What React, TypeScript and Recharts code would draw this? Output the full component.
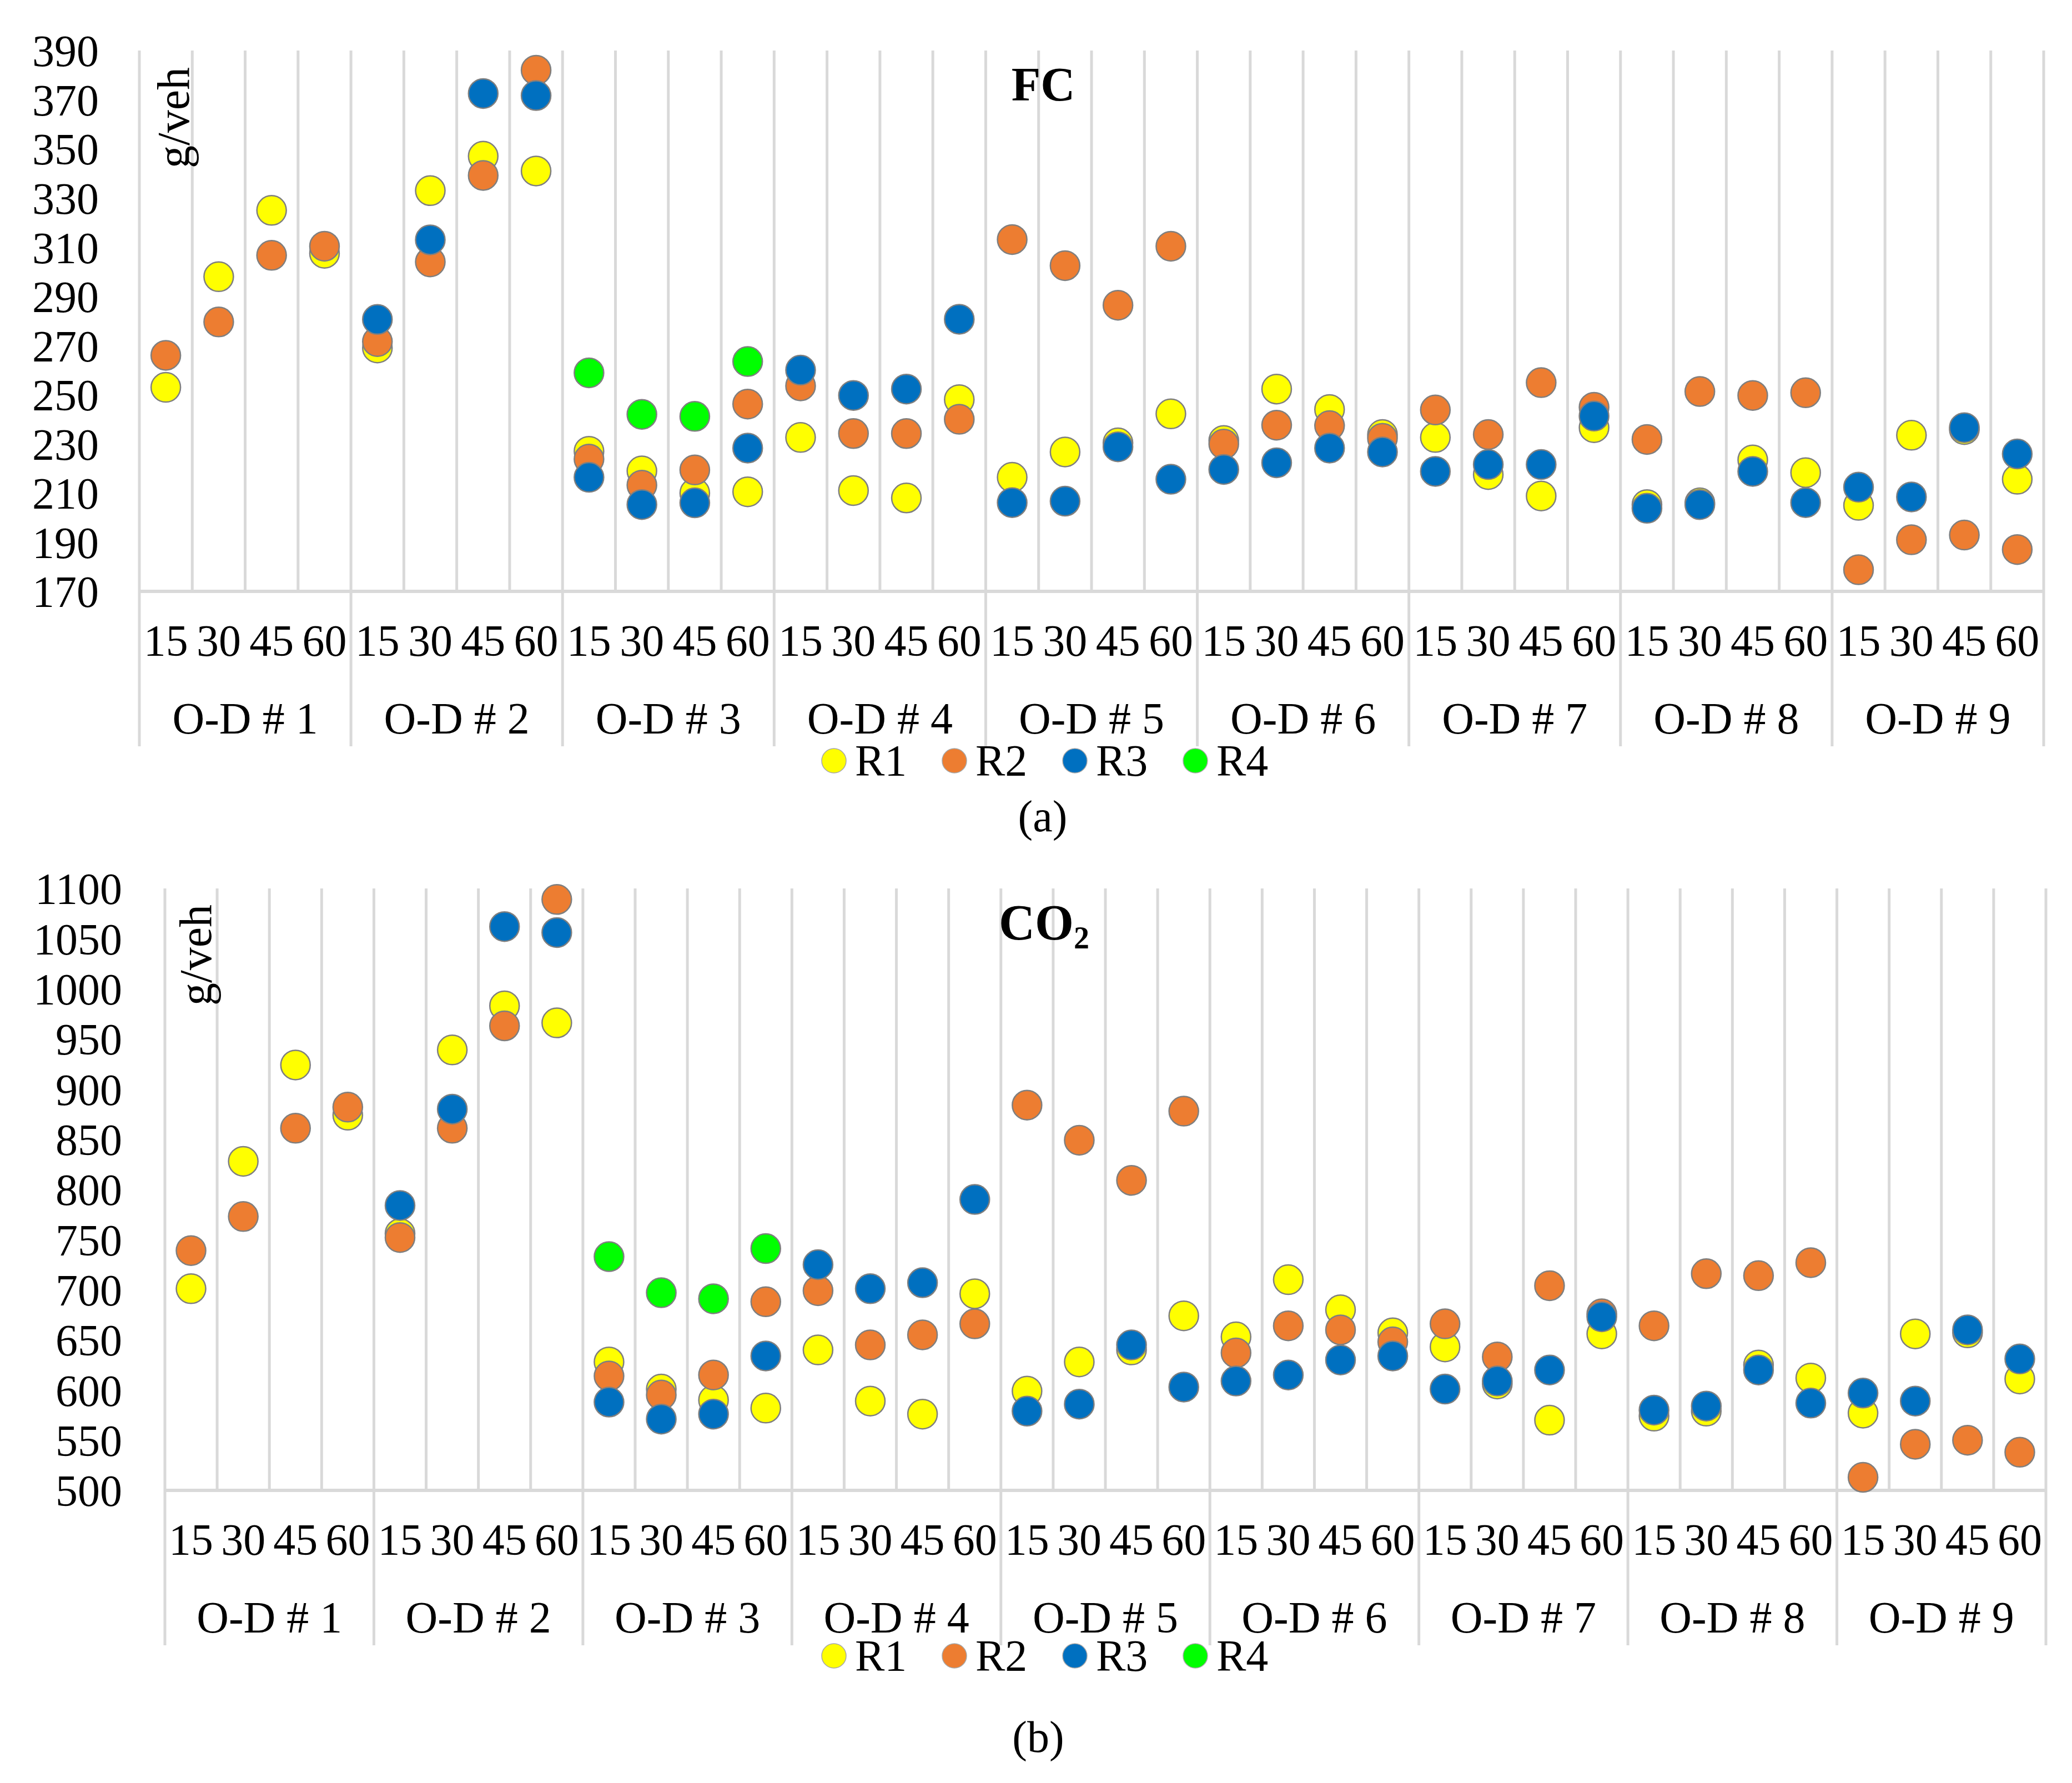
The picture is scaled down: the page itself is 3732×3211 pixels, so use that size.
import type { FC } from "react";
import {
	CartesianGrid,
	ComposedChart,
	Legend,
	Scatter,
	XAxis,
	YAxis,
} from "recharts";

const TIMES = ["15", "30", "45", "60"];
const OD_LABELS = [
	"O-D # 1",
	"O-D # 2",
	"O-D # 3",
	"O-D # 4",
	"O-D # 5",
	"O-D # 6",
	"O-D # 7",
	"O-D # 8",
	"O-D # 9",
];

const FC_TICKS = [170, 190, 210, 230, 250, 270, 290, 310, 330, 350, 370, 390];
const CO2_TICKS = [
	500, 550, 600, 650, 700, 750, 800, 850, 900, 950, 1000, 1050, 1100,
];

// FC (g/veh), 9 O-D pairs x 4 intervals
const FC_R1 = [
	253, 298, 325, 307.5, 269, 333, 347, 341, 227, 219, 210, 210.5, 232.6, 211,
	208, 248, 216.4, 226.7, 230.4, 242.2, 231.4, 252.3, 244, 233.8, 232.6, 217.5,
	208.8, 236.6, 205.3, 206, 223.5, 218.3, 205, 233.5, 235.8, 215.6,
];
const FC_R2 = [
	266, 279.6, 306.7, 310.4, 271.6, 304, 339.2, 382, 223.8, 213.2, 219.4, 246.2,
	253.6, 234.2, 234.2, 240, 313.1, 302.5, 286.4, 310.4, 229.9, 237.6, 237.4,
	232.3, 243.8, 233.8, 254.9, 244.9, 231.8, 251.3, 249.7, 250.8, 178.8, 191,
	192.9, 187,
];
const FC_R3 = [
	null, null, null, null, 280.6, 313, 372.5, 371.7, 216.4, 205.3, 206, 228.3,
	260, 249.7, 252.3, 280.7, 206.1, 206.7, 228.8, 215.6, 219.6, 222.3, 228.3,
	226.7, 218.8, 221.6, 221.6, 241.3, 203.8, 205.3, 218.8, 206.1, 212.4, 208.4,
	236.6, 225.9,
];
const FC_R4 = [
	null, null, null, null, null, null, null, null, 258.9, 242, 241.2, 263.5,
	null, null, null, null, null, null, null, null, null, null, null, null, null,
	null, null, null, null, null, null, null, null, null, null, null,
];

// CO2 (g/veh)
const CO2_R1 = [
	701, 828, 924, 874, 756, 939, 983, 966, 628, 601, 590, 582, 640, 589, 576,
	696, 599, 628, 640, 674, 653, 710, 680, 657, 643, 606, 570, 656, 574, 579,
	625, 612, 577, 656, 657, 611,
];
const CO2_R2 = [
	739, 773, 861, 882, 752, 861, 963, 1089, 614, 595, 615, 688, 699, 645, 655,
	666, 884, 849, 809, 878, 637, 664, 660, 648, 666, 633, 704, 676, 664, 716,
	714, 727, 513, 546, 550, 538,
];
const CO2_R3 = [
	null, null, null, null, 784, 880, 1062, 1056, 588, 571, 576, 634, 725, 701,
	707, 790, 579, 586, 645, 603, 609, 615, 630, 634, 601, 609, 620, 673, 580,
	584, 620, 587, 597, 589, 660, 631,
];
const CO2_R4 = [
	null, null, null, null, null, null, null, null, 733, 697, 691, 741, null,
	null, null, null, null, null, null, null, null, null, null, null, null, null,
	null, null, null, null, null, null, null, null, null, null,
];

const SERIES = [
	{ key: "R1", color: "#FFFF00" },
	{ key: "R2", color: "#ED7D31" },
	{ key: "R3", color: "#0070C0" },
	{ key: "R4", color: "#00FF00" },
];

const FONT = '"Liberation Serif", "Times New Roman", serif';
const GRID = "#d9d9d9";
const CATS = 36;
const FS = 80;

type Val = number | null;

const buildRows = (r1: Val[], r2: Val[], r3: Val[], r4: Val[]) =>
	r1.map((_, i) => ({ pos: i + 0.5, R1: r1[i], R2: r2[i], R3: r3[i], R4: r4[i] }));

const POS_TICKS = Array.from({ length: CATS }, (_, i) => i + 0.5);

const makeDot = (key: string, fill: string) => (p: any) => {
	if (p?.payload?.[key] == null || !Number.isFinite(p.cy)) return <g />;
	return (
		<circle
			cx={p.cx}
			cy={p.cy}
			r={26.5}
			fill={fill}
			stroke="#7f7f7f"
			strokeWidth={2.5}
		/>
	);
};

const makeTick = (band: number) => (props: any) => {
	const { x, y, payload } = props;
	const i = Math.floor(payload.value);
	const left = x - band / 2;
	const right = x + band / 2;
	return (
		<g>
			<text
				x={x}
				y={y + 116}
				textAnchor="middle"
				fontSize={FS}
				fontFamily={FONT}
				fill="#000"
			>
				{TIMES[i % 4]}
			</text>
			{i % 4 === 0 && (
				<line x1={left} x2={left} y1={y} y2={y + 279} stroke={GRID} strokeWidth={5} />
			)}
			{i === CATS - 1 && (
				<line x1={right} x2={right} y1={y} y2={y + 279} stroke={GRID} strokeWidth={5} />
			)}
			{i % 4 === 1 && (
				<text
					x={right}
					y={y + 256}
					textAnchor="middle"
					fontSize={FS}
					fontFamily={FONT}
					fill="#000"
				>
					{OD_LABELS[Math.floor(i / 4)]}
				</text>
			)}
		</g>
	);
};

const LegendContent = (props: any) => (
	<div style={{ display: "flex", alignItems: "center", height: 60 }}>
		{(props.payload ?? []).map((e: any) => (
			<div
				key={e.value}
				style={{ display: "flex", alignItems: "center", width: 217, height: 60 }}
			>
				<svg width={48} height={48}>
					<circle cx={24} cy={24} r={22} fill={e.color} stroke="#a6a6a6" strokeWidth={1.5} />
				</svg>
				<span
					style={{
						marginLeft: 14,
						fontFamily: FONT,
						fontSize: FS,
						lineHeight: "60px",
						color: "#000",
					}}
				>
					{e.value}
				</span>
			</div>
		))}
	</div>
);

type PanelProps = {
	rows: ReturnType<typeof buildRows>;
	domain: [number, number];
	ticks: number[];
	height: number;
	top: number;
	right: number;
	bottom: number;
	yWidth: number;
	tickGap: number;
	legendTop: number;
};

const W = 3732;

const Panel: FC<PanelProps> = ({
	rows,
	domain,
	ticks,
	height,
	top,
	right,
	bottom,
	yWidth,
	tickGap,
	legendTop,
}) => {
	const band = (W - yWidth - right) / CATS;
	return (
		<ComposedChart
			width={W}
			height={height}
			data={rows}
			margin={{ top, right, bottom, left: 0 }}
		>
			<CartesianGrid
				horizontal={false}
				stroke={GRID}
				strokeWidth={5}
				verticalCoordinatesGenerator={({ offset }: any) =>
					Array.from(
						{ length: CATS + 1 },
						(_, k) => offset.left + (k * offset.width) / CATS,
					)
				}
			/>
			<XAxis
				type="number"
				dataKey="pos"
				domain={[0, CATS]}
				ticks={POS_TICKS}
				interval={0}
				height={300}
				tickLine={false}
				tickSize={0}
				tickMargin={0}
				axisLine={{ stroke: GRID, strokeWidth: 6 }}
				tick={makeTick(band)}
			/>
			<YAxis
				type="number"
				domain={domain}
				ticks={ticks}
				interval={0}
				width={yWidth}
				axisLine={false}
				tickLine={false}
				tickSize={0}
				tickMargin={tickGap}
				tick={{ fontSize: FS, fontFamily: FONT, fill: "#000" }}
			/>
			{SERIES.map((s) => (
				<Scatter
					key={s.key}
					name={s.key}
					dataKey={s.key}
					fill={s.color}
					shape={makeDot(s.key, s.color)}
					isAnimationActive={false}
				/>
			))}
			<Legend
				layout="horizontal"
				verticalAlign="middle"
				align="center"
				content={LegendContent}
				wrapperStyle={{ top: legendTop, left: 1478, width: 900 }}
			/>
		</ComposedChart>
	);
};

const fcRows = buildRows(FC_R1, FC_R2, FC_R3, FC_R4);
const co2Rows = buildRows(CO2_R1, CO2_R2, CO2_R3, CO2_R4);

const App: FC = () => {
	return (
		<div
			style={{
				position: "absolute",
				left: 0,
				top: 0,
				width: W,
				height: 3211,
				background: "#fff",
				overflow: "hidden",
			}}
		>
			<div style={{ position: "absolute", left: 0, top: 0 }}>
				<Panel
					rows={fcRows}
					domain={[170, 390]}
					ticks={FC_TICKS}
					height={1440}
					top={91}
					right={51}
					bottom={75}
					yWidth={251}
					tickGap={73}
					legendTop={1340}
				/>
			</div>
			<div style={{ position: "absolute", left: 0, top: 1500 }}>
				<Panel
					rows={co2Rows}
					domain={[500, 1100]}
					ticks={CO2_TICKS}
					height={1711}
					top={100}
					right={47}
					bottom={227}
					yWidth={297}
					tickGap={77}
					legendTop={1452}
				/>
			</div>
			<svg
				width={W}
				height={3211}
				style={{ position: "absolute", left: 0, top: 0, pointerEvents: "none" }}
				fontFamily={FONT}
				fill="#000"
			>
				<text x={1879} y={181} textAnchor="middle" fontSize={86} fontWeight="bold">
					FC
				</text>
				<text x={1799} y={1692} fontSize={90} fontWeight="bold">
					CO
					<tspan fontSize={56} dy={16}>
						2
					</tspan>
				</text>
				<text transform="translate(340,212) rotate(-90)" textAnchor="middle" fontSize={82}>
					g/veh
				</text>
				<text transform="translate(380,1720) rotate(-90)" textAnchor="middle" fontSize={82}>
					g/veh
				</text>
				<text x={1878} y={1497} textAnchor="middle" fontSize={FS}>
					(a)
				</text>
				<text x={1870} y={3155} textAnchor="middle" fontSize={FS}>
					(b)
				</text>
			</svg>
		</div>
	);
};

export default App;
